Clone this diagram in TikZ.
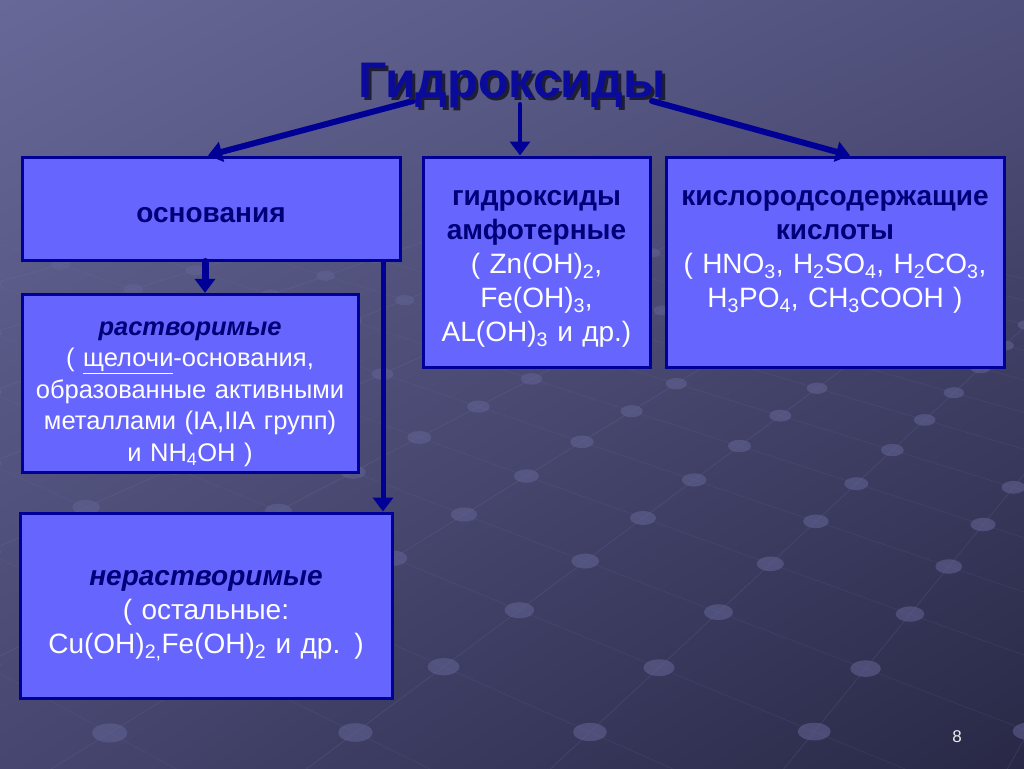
\documentclass[tikz,border=0pt]{standalone}
\usepackage{fontspec}
\setmainfont{Liberation Sans}
\usetikzlibrary{arrows.meta,backgrounds,shadings}
\definecolor{boxfill}{RGB}{102,102,255}
\definecolor{boxline}{RGB}{0,0,150}
\definecolor{headc}{RGB}{0,0,120}
\definecolor{titlec}{RGB}{10,10,155}
\definecolor{shadowc}{RGB}{30,30,50}
\definecolor{bgUL}{RGB}{104,104,152}
\definecolor{bgUR}{RGB}{80,80,124}
\definecolor{bgLL}{RGB}{70,70,112}
\definecolor{bgLR}{RGB}{40,40,70}
\definecolor{dotc}{RGB}{100,100,150}
\definecolor{gridc}{RGB}{125,125,170}
\newcommand\hd[1]{{\bfseries\color{headc}#1}}
\newcommand\hdi[1]{{\bfseries\itshape\color{headc}#1}}
\newcommand\lo[1]{\textsubscript{#1}}
\newcommand\shadowed[1]{\rlap{\kern3pt\raisebox{-3pt}{\color{shadowc}#1}}#1}
\newcommand\gridpt[3]{%
	\pgfmathsetmacro\gd{1-0.04412*#1+0.06153*#2}%
	\pgfmathsetmacro\gx{(643+93.36*#1+93.77*#2)/\gd}%
	\pgfmathsetmacro\gy{(518+20.96*#1-8.553*#2)/\gd}%
	\coordinate (#3) at (\gx,\gy);}
\tikzset{
	box/.style={draw=boxline, fill=boxfill, line width=3pt, line join=miter, inner xsep=0pt, inner ysep=6pt, align=center, text=white, text height=29pt, font=\fontsize{28}{34}\selectfont},
	ttl/.style={font=\fontsize{50}{60}\selectfont\bfseries, text=titlec, inner sep=0pt, anchor=base},
	arr/.style={draw=boxline, line width=#1, line cap=round, ->},
}
\begin{document}
\begin{tikzpicture}[x=1pt, y=-1pt, >={Triangle[width=20pt,length=14pt]}]
	\useasboundingbox (0,0) rectangle (1024,768);
	\node[box, text width=378pt, minimum height=103pt] (bases) at (211,208.5) {\hd{основания}};
	\node[box, text width=227pt, minimum height=210pt] (amph) at (536.5,262) {\hd{гидроксиды\\амфотерные}\\( Zn(OH)\lo{2},\\Fe(OH)\lo{3},\\AL(OH)\lo{3} и др.)};
	\node[box, text width=338pt, minimum height=210pt] (acid) at (835,262) {\hd{кислородсодержащие\\кислоты}\\( HNO\lo{3}, H\lo{2}SO\lo{4}, H\lo{2}CO\lo{3},\\H\lo{3}PO\lo{4}, CH\lo{3}COOH )\par\vspace{34pt}};
	\node[box, text width=336pt, minimum height=177pt, text height=35pt, font=\fontsize{25.5}{31.5}\selectfont] (sol) at (190,383.5) {\hdi{растворимые}\\( \underline{щелочи}-основания,\\образованные активными\\металлами (IA,IIA групп)\\и NH\lo{4}OH )};
	\node[box, text width=372pt, minimum height=185pt, text height=35pt] (insol) at (206,605.5) {\hdi{нерастворимые}\\( остальные:\\Cu(OH)\lo{2,}Fe(OH)\lo{2} и др. )};
	\path (413,101) coordinate (tl)
	(652,101) coordinate (tr)
	(520,104) coordinate (tm);
	\draw[arr=6pt] (tl) -- ([xshift=-3pt]bases.north);
	\draw[arr=4pt] (tm) -- (tm |- amph.north);
	\draw[arr=6pt] (tr) -- ([xshift=15pt]acid.north);
	\draw[arr=7pt] ([xshift=-6pt]bases.south) -- ([xshift=-6pt]bases.south |- sol.north);
	\draw[arr=5pt] ([xshift=172pt]bases.south) -- ([xshift=172pt]bases.south |- insol.north);
	\node[ttl] (title) at (512,97) {\shadowed{Гидроксиды}};
	\node[text=white!85!gray, font=\fontsize{17}{20}\selectfont] (pnum) at (957,737) {8};
	\begin{scope}[on background layer]
		\shade[upper left=bgUL, upper right=bgUR, lower left=bgLL, lower right=bgLR] (0,0) rectangle (1024,768);
		\clip (0,0) rectangle (1024,768);
		\begin{scope}
			\clip (0,240) rectangle (1024,768);
			\foreach \i in {-8,...,4}{
				\gridpt{\i}{-9}{a}\gridpt{\i}{10}{b}
				\draw[gridc, opacity=.18, line width=.8pt] (a) -- (b);
			}
			\foreach \j in {-9,...,10}{
				\gridpt{-8}{\j}{a}\gridpt{4}{\j}{b}
				\draw[gridc, opacity=.12, line width=.8pt] (a) -- (b);
			}
		\end{scope}
		\foreach \i in {-8,...,4}{
			\foreach \j in {-9,...,10}{
				\gridpt{\i}{\j}{p}
				\ifdim\gy pt>250pt
					\fill[dotc, opacity=.55] (p) ellipse ({13/\gd} and {7/\gd});
				\fi
			}
		}
	\end{scope}
\end{tikzpicture}
\end{document}
